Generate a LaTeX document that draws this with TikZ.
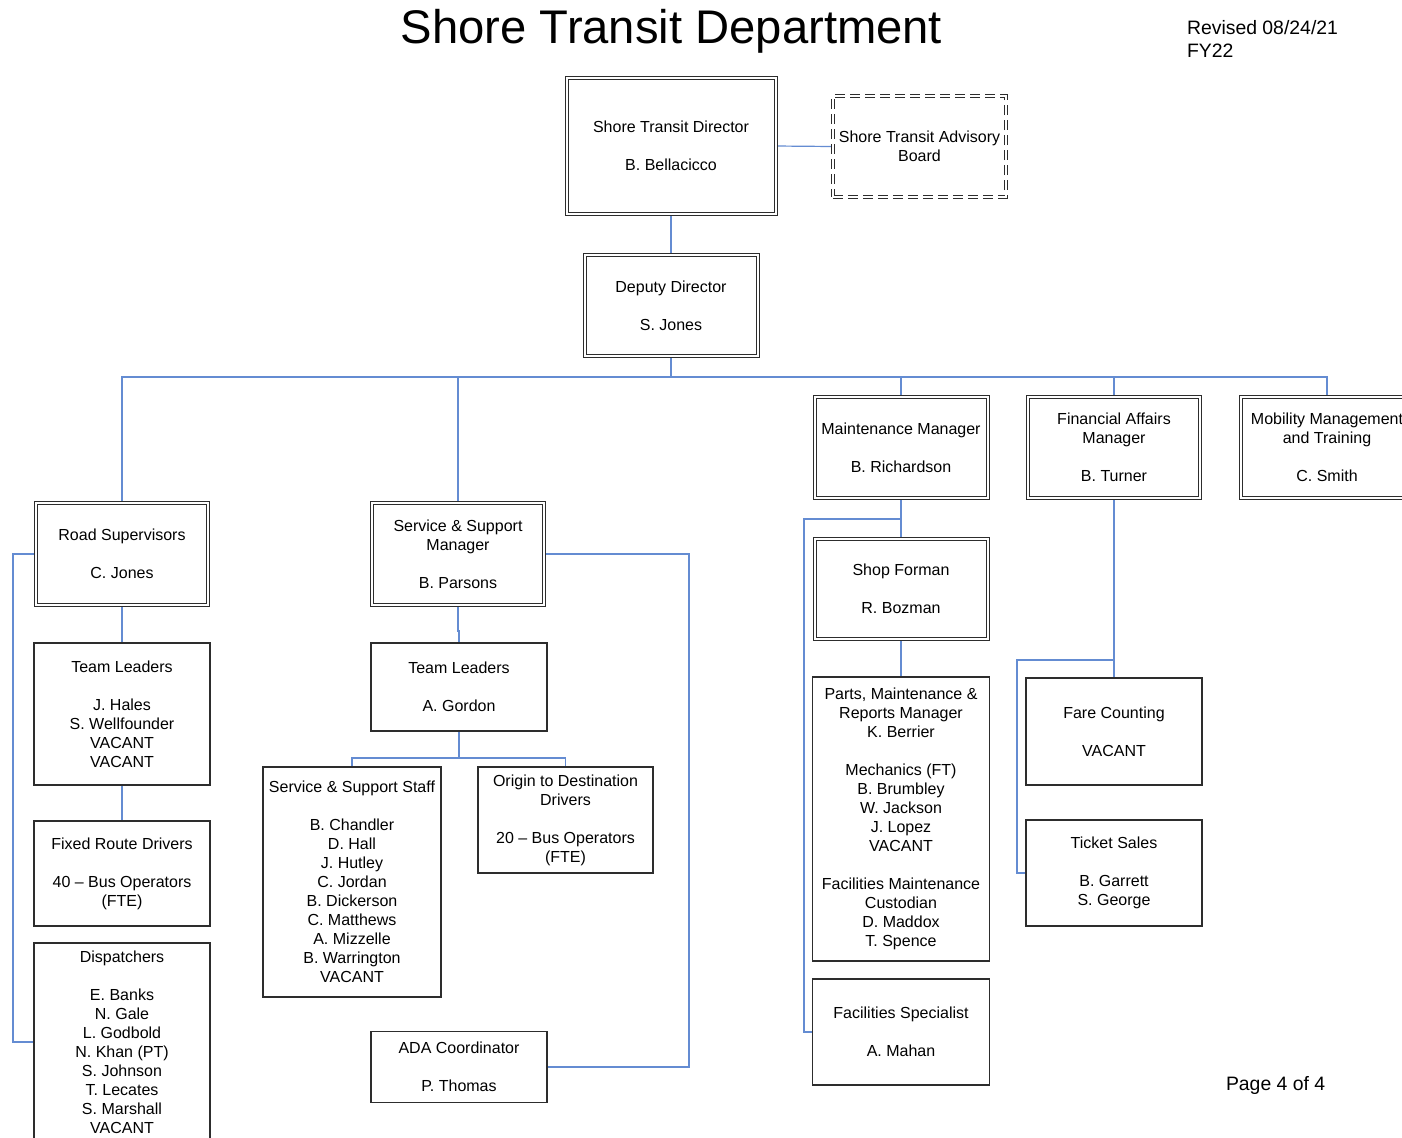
\documentclass[tikz,border=0pt]{standalone}
\usepackage{fontspec}
\setmainfont{Liberation Sans}
\usetikzlibrary{backgrounds}
\definecolor{lineblue}{RGB}{100,140,210}
\definecolor{boxgray}{RGB}{45,45,45}
\begin{document}
\begin{tikzpicture}[x=0.5pt,y=-0.5pt,
  every node/.style={inner sep=0pt, outer sep=0pt},
  box/.style={draw=boxgray, line width=0.6pt, fill=white, align=center, font=\fontsize{8}{9.5}\selectfont, text=black},
  dbox/.style={box, double=white, double distance=1pt, line width=0.5pt},
  dashbox/.style={dbox, double distance=1.2pt, dash pattern=on 5pt off 2.5pt},
  conn/.style={draw=lineblue, line width=0.6pt},
  bigtitle/.style={font=\fontsize{23.6}{28}\selectfont, text=black},
  note/.style={font=\fontsize{9.7}{11.5}\selectfont, text=black, align=left}
  ]
\useasboundingbox (0,0) rectangle (1402,1137);

% title and notes
\node[bigtitle] (title) at (671.5,31) {Shore Transit Department};
\node[note, anchor=west] (rev) at (1187,38.5) {Revised 08/24/21\\FY22};
\node[note, anchor=west] (page) at (1226,1085) {Page 4 of 4};

% top
\node[dbox, minimum width=104.5pt, minimum height=68pt] (dir) at (671,146) {Shore Transit Director\\[9.5pt]B. Bellacicco};
\node[dashbox, minimum width=86.5pt, minimum height=50.5pt] (adv) at (919.5,146.5) {Shore Transit Advisory\\Board};
\node[dbox, minimum width=86.5pt, minimum height=50.5pt] (dep) at (671,305.5) {Deputy Director\\[9.5pt]S. Jones};

% managers
\node[dbox, minimum width=86pt, minimum height=51pt] (rs) at (122,554) {Road Supervisors\\[9.5pt]C. Jones};
\node[dbox, minimum width=86pt, minimum height=51pt] (ssm) at (458,554) {Service \& Support\\Manager\\[9.5pt]B. Parsons};
\node[dbox, minimum width=86.5pt, minimum height=50.5pt] (mm) at (901,447.5) {Maintenance Manager\\[9.5pt]B. Richardson};
\node[dbox, minimum width=86.5pt, minimum height=50pt] (sf) at (901,589) {Shop Forman\\[9.5pt]R. Bozman};
\node[dbox, minimum width=86pt, minimum height=50.5pt] (fa) at (1114,447.5) {Financial Affairs\\Manager\\[9.5pt]B. Turner};
\node[dbox, minimum width=86pt, minimum height=50.5pt] (mob) at (1327,447.5) {Mobility Management\\and Training\\[9.5pt]C. Smith};

% left column
\node[box, minimum width=88pt, minimum height=71pt] (tl1) at (122,714) {Team Leaders\\[9.5pt]J. Hales\\S. Wellfounder\\VACANT\\VACANT};
\node[box, minimum width=88pt, minimum height=52.5pt] (frd) at (122,873.5) {Fixed Route Drivers\\[9.5pt]40 – Bus Operators\\(FTE)};
\node[box, minimum width=88pt, minimum height=99pt] (disp) at (122,1042) {Dispatchers\\[9.5pt]E. Banks\\N. Gale\\L. Godbold\\N. Khan (PT)\\S. Johnson\\T. Lecates\\S. Marshall\\VACANT};

% middle column
\node[box, minimum width=88pt, minimum height=44pt] (tl2) at (459,687) {Team Leaders\\[9.5pt]A. Gordon};
\node[box, minimum width=89pt, minimum height=115pt] (sss) at (352,882) {Service \& Support Staff\\[9.5pt]B. Chandler\\D. Hall\\J. Hutley\\C. Jordan\\B. Dickerson\\C. Matthews\\A. Mizzelle\\B. Warrington\\VACANT};
\node[box, minimum width=87.5pt, minimum height=53pt] (od) at (565.5,820) {Origin to Destination\\Drivers\\[9.5pt]20 – Bus Operators\\(FTE)};
\node[box, minimum width=88pt, minimum height=35.5pt] (ada) at (459,1067) {ADA Coordinator\\[9.5pt]P. Thomas};

% maintenance column
\node[box, minimum width=88.5pt, minimum height=142pt] (parts) at (901,819) {Parts, Maintenance \&\\Reports Manager\\K. Berrier\\[9.5pt]Mechanics (FT)\\B. Brumbley\\W. Jackson\\J. Lopez\\VACANT\\[9.5pt]Facilities Maintenance\\Custodian\\D. Maddox\\T. Spence};
\node[box, minimum width=88.5pt, minimum height=53pt] (fs) at (901,1032) {Facilities Specialist\\[9.5pt]A. Mahan};

% finance column
\node[box, minimum width=88pt, minimum height=53.5pt] (fc) at (1114,731.5) {Fare Counting\\[9.5pt]VACANT};
\node[box, minimum width=88pt, minimum height=53pt] (ts) at (1114,873) {Ticket Sales\\[9.5pt]B. Garrett\\S. George};

% helper coordinates
\coordinate (bus) at (0,377);
\coordinate (lx) at (13,0);
\coordinate (rx) at (689,0);
\coordinate (tb) at (0,758);
\coordinate (mb) at (0,519);
\coordinate (lx2) at (804,0);
\coordinate (fb) at (0,660);
\coordinate (lx3) at (1017,0);

\begin{scope}[on background layer]
\fill[white] (0,0) rectangle (1402,1137);
\draw[conn] (dir.east) -- (adv.west);
\draw[conn] (dir.south) -- (dep.north);
\draw[conn] (dep.south) -- (dep.south |- bus);
\draw[conn] (rs.north) -- (rs.north |- bus) -- (mob.north |- bus) -- (mob.north);
\draw[conn] (ssm.north) -- (ssm.north |- bus);
\draw[conn] (mm.north) -- (mm.north |- bus);
\draw[conn] (fa.north) -- (fa.north |- bus);
% left
\draw[conn] (rs.south) -- (tl1.north);
\draw[conn] (tl1.south) -- (frd.north);
\draw[conn] (rs.west) -- (rs.west -| lx) -- (disp.west -| lx) -- (disp.west);
% middle
\draw[conn] (ssm.south) -- ++(0,26) -| (tl2.north);
\draw[conn] (tl2.south) -- (tl2.south |- tb);
\draw[conn] (sss.north) -- (sss.north |- tb) -- (od.north |- tb) -- (od.north);
\draw[conn] (ssm.east) -- (ssm.east -| rx) -- (ada.east -| rx) -- (ada.east);
% maintenance
\draw[conn] (mm.south) -- (sf.north);
\draw[conn] (sf.south) -- (parts.north);
\draw[conn] (mm.south |- mb) -- (lx2 |- mb) -- (fs.west -| lx2) -- (fs.west);
% finance
\draw[conn] (fa.south) -- (fc.north);
\draw[conn] (fa.south |- fb) -- (lx3 |- fb) -- (ts.west -| lx3) -- (ts.west);
\end{scope}
\end{tikzpicture}
\end{document}
